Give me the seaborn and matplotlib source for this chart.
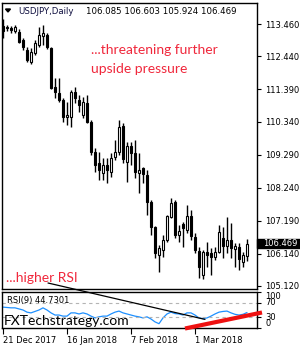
import numpy as np
import pandas as pd
import seaborn as sns
import matplotlib
matplotlib.use("Agg")
import matplotlib.pyplot as plt
from matplotlib.lines import Line2D
from matplotlib.patches import Rectangle, Polygon
from matplotlib.transforms import blended_transform_factory

sns.set_style("white")
plt.rcParams['font.family'] = ['DejaVu Sans']

# daily bars, 21 Dec 2017 - 20 Mar 2018 (no bars on 25 Dec / 1 Jan)
dates = pd.bdate_range("2017-12-21", "2018-03-20", freq="C",
                       holidays=["2017-12-25", "2018-01-01"])

opens = [113.40, 113.35, 113.33, 113.24, 113.21, 112.95, 112.63, 112.25, 112.54, 112.79,
         113.08, 113.11, 112.70, 111.45, 111.26, 111.04, 110.50, 110.50, 111.29, 111.04,
         110.56, 110.94, 110.34, 109.39, 109.03, 108.72, 108.97, 108.75, 109.23, 109.39,
         110.21, 109.07, 109.58, 109.35, 108.72, 108.87, 108.65, 107.79, 107.00, 106.11,
         106.27, 106.59, 107.32, 107.79, 106.75, 107.09, 106.90, 107.35, 106.68, 106.24,
         105.47, 106.20, 106.17, 106.05, 106.20, 106.65, 106.40, 106.59, 106.30, 106.36,
         105.89, 106.085]
highs = [113.62, 113.43, 113.40, 113.43, 113.30, 113.01, 112.73, 112.70, 112.95, 113.36,
         113.43, 113.17, 112.73, 111.74, 111.74, 111.10, 110.98, 111.36, 111.45, 111.20,
         111.14, 111.20, 110.40, 109.51, 109.39, 109.19, 109.19, 109.35, 109.77, 110.40,
         110.31, 109.70, 109.70, 109.77, 109.35, 108.91, 108.81, 107.86, 107.03, 106.43,
         106.75, 107.38, 107.92, 107.86, 107.06, 107.15, 107.70, 107.54, 106.81, 106.36,
         106.27, 106.52, 106.33, 106.36, 107.06, 107.00, 107.32, 107.12, 106.49, 106.49,
         106.20, 106.603]
lows = [113.01, 113.24, 113.18, 113.18, 112.86, 112.63, 112.25, 112.19, 112.47, 112.73,
        112.79, 112.66, 111.39, 111.10, 110.98, 110.34, 110.24, 110.18, 110.94, 110.66,
        110.47, 110.31, 109.29, 108.75, 108.49, 108.49, 108.40, 108.59, 109.13, 109.29,
        109.03, 108.43, 108.97, 108.56, 108.08, 108.40, 107.38, 106.75, 106.01, 105.57,
        106.05, 106.52, 107.29, 106.65, 106.52, 106.36, 106.81, 106.59, 106.17, 105.37,
        105.34, 105.73, 105.47, 105.95, 106.17, 106.01, 106.17, 106.01, 105.73, 105.63,
        105.73, 105.924]
closes = [113.24, 113.32, 113.27, 113.37, 112.89, 112.73, 112.31, 112.57, 112.86, 113.11,
          113.17, 112.73, 111.42, 111.29, 111.04, 110.50, 110.56, 111.29, 111.10, 110.88,
          110.98, 110.34, 109.39, 108.97, 108.81, 108.97, 108.81, 109.19, 109.39, 110.18,
          109.16, 109.58, 109.35, 108.75, 108.81, 108.68, 107.79, 107.00, 106.17, 106.33,
          106.59, 107.35, 107.76, 106.75, 106.87, 106.97, 107.35, 106.71, 106.27, 105.73,
          106.20, 106.11, 106.05, 106.20, 106.84, 106.40, 106.59, 106.33, 106.40, 105.98,
          106.11, 106.469]
rsi = [58, 57, 56, 56, 53, 50, 44, 42, 46, 50,
       56, 50, 42, 36, 36, 33, 33, 42, 42, 39,
       42, 39, 33, 28, 31, 33, 33, 39, 44, 47,
       42, 39, 36, 33, 31, 28, 31, 25, 17, 12,
       28, 39, 44, 40, 39, 36, 42, 42, 36, 28,
       26, 28, 33, 39, 44, 46, 47, 42, 38, 36,
       38, 43]

price_ticks = [113.460, 112.440, 111.390, 110.340, 109.290, 108.240, 107.190, 106.140, 105.120]
date_ticks = ["2017-12-21", "2018-01-16", "2018-02-07", "2018-03-01"]
date_labels = ["21 Dec 2017", "16 Jan 2018", "7 Feb 2018", "1 Mar 2018"]

W, H = 300, 350
fig = plt.figure(figsize=(3, 3.5), dpi=100)


def fx(px):
    return px / W


def fy(py):
    return 1 - py / H


ax = fig.add_axes([fx(2), fy(289), fx(255), (289 - 3) / H])
ax2 = fig.add_axes([fx(2), fy(328), fx(255), (328 - 292) / H])

x = np.arange(len(dates))
o = np.array(opens)
c = np.array(closes)
up = c >= o

# candles
ax.vlines(x, lows, highs, color="black", lw=1)
ax.bar(x[up], np.maximum(c - o, 0.02)[up], bottom=o[up], width=0.62,
       color="white", edgecolor="black", linewidth=0.8, zorder=3)
ax.bar(x[~up], (c - o)[~up], bottom=o[~up], width=0.62,
       color="black", edgecolor="black", linewidth=0.8, zorder=3)

ax.set_xlim(-0.25, 63.5)
ax.set_ylim(105.02, 114.13)
ax.yaxis.tick_right()
ax.set_yticks(price_ticks)
ax.set_yticklabels(["%.3f" % v for v in price_ticks])
ax.set_xticks([])
ax.tick_params(axis="y", direction="out", length=3, width=0.8, pad=3,
               labelsize=6, colors="black", right=True)
for s in ax.spines.values():
    s.set_color("black")
    s.set_linewidth(1)

# current price box
tr = blended_transform_factory(ax.transAxes, ax.transData)
ax.add_patch(Rectangle((1.0, closes[-1] - 0.155), 43 / 255, 0.31, transform=tr,
                       facecolor="black", edgecolor="black", clip_on=False, zorder=5))
ax.text(1.0 + 6 / 255, closes[-1], "%.3f" % closes[-1], transform=tr, color="white",
        fontsize=6, va="center", ha="left", zorder=6)

# RSI panel
sns.lineplot(x=x, y=rsi, ax=ax2, color="#1E90FF", lw=0.9)
ax2.axhline(70, color="#B4B4B4", lw=0.8, ls=(0, (3, 3)))
ax2.axhline(30, color="#B4B4B4", lw=0.8, ls=(0, (3, 3)))
ax2.set_xlim(-0.25, 63.5)
ax2.set_ylim(0, 100)
ax2.yaxis.tick_right()
ax2.set_yticks([0, 30, 70, 100])
ax2.set_yticklabels(["0", "30", "70", "100"])
ax2.tick_params(axis="y", direction="out", length=3, width=0.8, pad=3,
                labelsize=6, colors="black", right=True)
for lbl, va in zip(ax2.get_yticklabels(), ["bottom", "center", "center", "top"]):
    lbl.set_va(va)
tick_pos = [list(dates).index(pd.Timestamp(d)) for d in date_ticks]
ax2.set_xticks(tick_pos)
ax2.set_xticklabels(date_labels, ha="left")
ax2.tick_params(axis="x", direction="out", length=4, width=0.8, pad=2,
                labelsize=6, colors="black", bottom=True)
ax2.set_xlabel("")
ax2.set_ylabel("")
for s in ax2.spines.values():
    s.set_color("black")
    s.set_linewidth(1)

# trend lines drawn across panels
fig.add_artist(Line2D([fx(48), fx(205)], [fy(283), fy(319.4)], color="black", lw=0.9))
fig.add_artist(Line2D([fx(185), fx(262)], [fy(328.5), fy(312.5)], color="#EE1111",
                      lw=3, solid_capstyle="butt"))

# header
fig.add_artist(Polygon([[fx(5.5), fy(9)], [fx(10.5), fy(9)], [fx(8), fy(12)]],
                       closed=True, color="black"))
fig.text(fx(18), fy(14.5), "USDJPY,Daily", fontsize=6.2, color="#101040", va="baseline")
fig.text(fx(86), fy(14.5), "106.085 106.603 105.924 106.469", fontsize=6.2,
         color="black", va="baseline")

red = "#F0283C"
fig.text(fx(91), fy(54), "...threatening further", fontsize=10, color=red,
         family="Lato", va="baseline")
fig.text(fx(91), fy(73), "upside pressure", fontsize=10, color=red,
         family="Lato", va="baseline")
fig.text(fx(6), fy(282), "...higher RSI", fontsize=10, color=red,
         family="Lato", va="baseline")
fig.text(fx(7), fy(303), "RSI(9) 44.7301", fontsize=6, color="black", va="baseline")
fig.text(fx(4), fy(325), "FXTechstrategy.com", fontsize=10, color="black",
         family="Lato", va="baseline")

fig.savefig("out.png", dpi=100)
